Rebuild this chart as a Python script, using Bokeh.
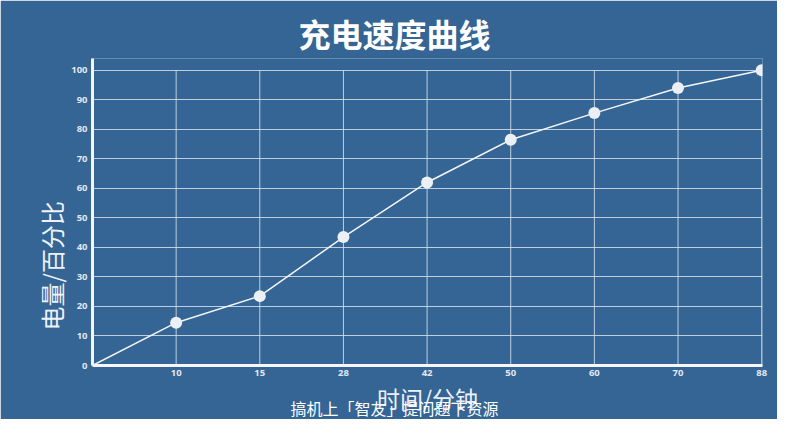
from bokeh.plotting import figure
from bokeh.models import Title, FixedTicker, Range1d
from bokeh.embed import file_html
from bokeh.resources import INLINE

# dados
tempo_labels = ["0", "10", "15", "28", "42", "50", "60", "70", "88"]
carga = [0, 14.5, 23.5, 43.5, 62, 76.5, 85.5, 94, 100]
y_ticks = [0, 10, 20, 30, 40, 50, 60, 70, 80, 90, 100]

titulo = "充电速度曲线"
titulo_x = "时间/分钟"
titulo_y = "电量/百分比"
legenda_rodape = "搞机上「智友」提问题下资源"

fundo = "#346594"
branco = "#f4f6fa"

posicoes = list(range(len(tempo_labels)))

p = figure(width=777, height=419, output_backend="svg", toolbar_location=None,
           x_range=Range1d(0, len(tempo_labels) - 1 + 0.01), y_range=Range1d(0, 104),
           min_border_left=92, min_border_right=15, min_border_top=58, min_border_bottom=54)
p.background_fill_color = fundo
p.border_fill_color = fundo
p.outline_line_color = None

# titulo principal, deslocado um pouco para a esquerda como na imagem
p.title.text = titulo
p.title.text_font = "Noto Sans CJK SC"
p.title.text_font_style = "bold"
p.title.text_font_size = "32px"
p.title.text_color = "white"
p.title.align = "left"
p.title.offset = 206
p.title.standoff = 6

# grade vertical so ate 100
p.xgrid.visible = False
p.segment(x0=posicoes[1:], y0=[0] * (len(posicoes) - 1), x1=posicoes[1:], y1=[max(y_ticks)] * (len(posicoes) - 1),
          line_color="#d6e0ec", line_width=1, line_alpha=0.85)
p.ygrid.ticker = FixedTicker(ticks=y_ticks)
p.ygrid.grid_line_color = "#d6e0ec"
p.ygrid.grid_line_alpha = 0.85
p.ygrid.grid_line_width = 1

# eixos
p.xaxis.ticker = FixedTicker(ticks=posicoes)
p.xaxis.major_label_overrides = {i: (t if i > 0 else "") for i, t in enumerate(tempo_labels)}
p.yaxis.ticker = FixedTicker(ticks=y_ticks)
for eixo in (p.xaxis, p.yaxis):
    eixo.axis_line_color = branco
    eixo.axis_line_width = 3
    eixo.major_tick_line_color = None
    eixo.minor_tick_line_color = None
    eixo.major_tick_out = 0
    eixo.major_tick_in = 0
    eixo.minor_tick_out = 0
    eixo.major_label_text_color = "#e2e8f0"
    eixo.major_label_text_font = "Open Sans"
    eixo.major_label_text_font_style = "bold"
    eixo.major_label_text_font_size = "9.5px"
p.xaxis.major_label_standoff = 4
p.yaxis.major_label_standoff = 5

p.xaxis.axis_label = titulo_x
p.xaxis.axis_label_text_font = "Noto Sans CJK SC"
p.xaxis.axis_label_text_font_style = "normal"
p.xaxis.axis_label_text_font_size = "23px"
p.xaxis.axis_label_text_color = "#eef2f8"
p.xaxis.axis_label_standoff = 2

# titulo do eixo y, alinhado mais para baixo como na imagem
p.add_layout(Title(text=titulo_y, align="left", offset=35, text_font="Noto Sans CJK SC",
                   text_font_style="normal", text_font_size="24px", text_color="#eef2f8",
                   standoff=0), "left")

# legenda de rodape, sobreposta ao titulo do eixo x
p.add_layout(Title(text=legenda_rodape, align="left", offset=198, vertical_align="top",
                   text_font="Noto Sans CJK SC", text_font_style="normal", text_font_size="16px",
                   text_color="white", standoff=-44), "below")

# linha e pontos
p.line(x=posicoes, y=carga, line_color=branco, line_width=1.5)
p.scatter(x=posicoes[1:], y=carga[1:], size=12, fill_color="#eceff4", line_color=None)

open("out.html", "w").write(file_html(p, INLINE))
